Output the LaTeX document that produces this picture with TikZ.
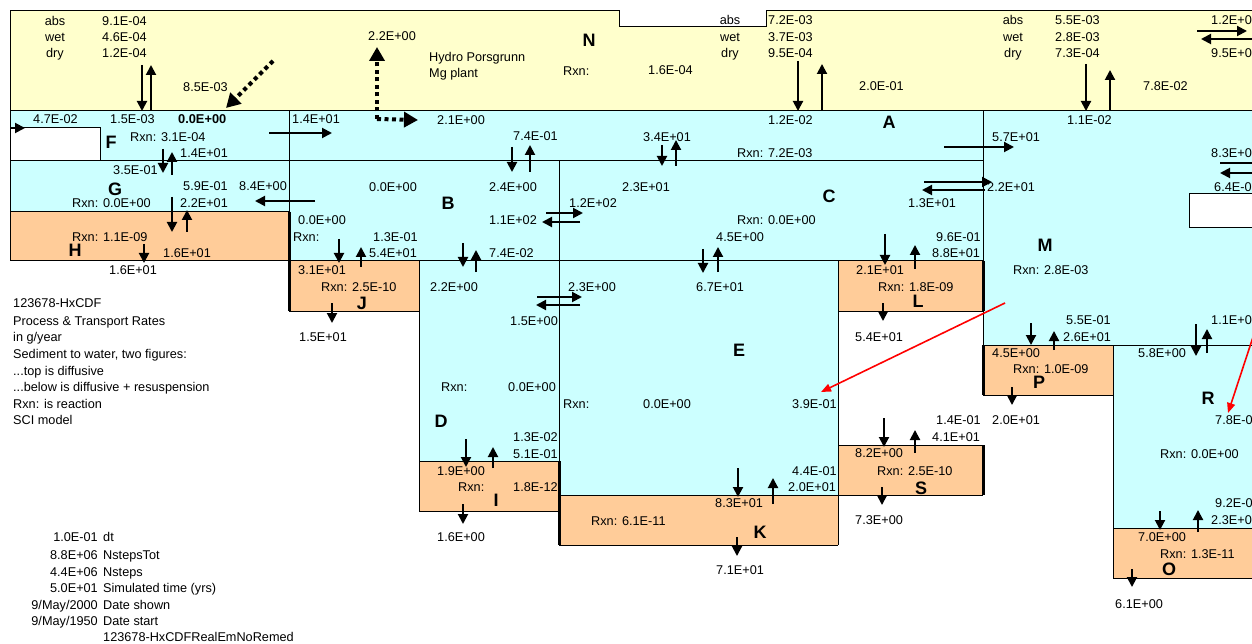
\documentclass[tikz,border=0pt]{standalone}
\usepackage{fontspec}
\setmainfont{Liberation Sans}
\usetikzlibrary{arrows.meta}
\definecolor{yel}{HTML}{FFFFCC}
\definecolor{cy}{HTML}{CCFFFF}
\definecolor{org}{HTML}{FFCC99}
\newcounter{nn}
\newcommand\fs{\fontsize{12.7}{14}\selectfont}
\newcommand\T[3]{\stepcounter{nn}\node[txt,anchor=base west] (t\arabic{nn}) at (#1,#2+4.5) {#3};}
\newcommand\TR[3]{\stepcounter{nn}\node[txt,anchor=base east] (t\arabic{nn}) at (#1,#2+4.5) {#3};}
\newcommand\TC[3]{\stepcounter{nn}\node[txt,anchor=base] (t\arabic{nn}) at (#1,#2+4.5) {#3};}
\newcommand\BL[3]{\node[big] (#3lbl) at (#1,#2+6.4) {#3};}
\newcommand\AR[4]{\draw[flx] (#1,#2) -- (#3,#4);}
\tikzset{
  txt/.style={inner sep=0pt,font=\fs},
  big/.style={inner sep=0pt,anchor=base,font=\fontsize{18}{20}\selectfont\bfseries},
  bd/.style={line width=1pt,draw=black},
  thk/.style={line width=3pt,draw=black},
  flx/.style={line width=2pt,-{Triangle[length=10pt,width=10pt]}},
  dotarr/.style={line width=4pt,dash pattern=on 4pt off 3.5pt,-{Triangle[length=14pt,width=15pt]}},
  redarr/.style={line width=1.6pt,red,-{Triangle[length=10pt,width=8pt]}}
}
\begin{document}
\begin{tikzpicture}[x=1pt,y=-1pt]
\useasboundingbox (0,0) rectangle (1252,644);
\clip (0,0) rectangle (1252,644);
\fill[white] (0,0) rectangle (1252,644);
% ---------- fills
\fill[yel] (10,11) -- (619,11) -- (619,27) -- (766,27) -- (766,11) -- (1260,11) -- (1260,111) -- (10,111) -- cycle;
\fill[cy] (10,111) rectangle (1260,161);
\fill[cy] (10,161) rectangle (289,212);
\fill[cy] (289,161) rectangle (983,261);
\fill[cy] (983,111) rectangle (1260,345);
\fill[cy] (419,261) rectangle (559,461);
\fill[cy] (559,261) rectangle (838,495);
\fill[cy] (1113,345) rectangle (1260,528);
\fill[org] (10,212) rectangle (289,261);
\fill[org] (289,261) rectangle (419,311);
\fill[org] (838,261) rectangle (983,311);
\fill[org] (419,461) rectangle (559,511);
\fill[org] (559,495) rectangle (838,545);
\fill[org] (838,445) rectangle (983,495);
\fill[org] (983,345) rectangle (1113,395);
\fill[org] (1113,528) rectangle (1260,578);
\filldraw[fill=white,bd] (10,128) rectangle (100,161);
\filldraw[fill=white,bd] (1189,194) rectangle (1262,228);
% ---------- borders
\draw[bd] (10,111) -- (10,11) -- (619,11) -- (619,27) -- (766,27) -- (766,11) -- (1260,11);
\draw[bd] (10,111) -- (1260,111);
\draw[bd] (10,111) -- (10,261);
\draw[bd] (10,161) -- (983,161);
\draw[bd] (10,212) -- (289,212);
\draw[bd] (10,261) -- (983,261);
\draw[bd] (289,111) -- (289,212);
\draw[thk] (289,212) -- (289,311);
\draw[bd] (289,311) -- (419,311);
\draw[bd] (419,261) -- (419,511);
\draw[bd] (419,461) -- (559,461);
\draw[bd] (419,511) -- (559,511);
\draw[bd] (559,161) -- (559,461);
\draw[thk] (559,461) -- (559,545);
\draw[bd] (559,495) -- (983,495);
\draw[bd] (559,545) -- (838,545);
\draw[bd] (838,261) -- (838,545);
\draw[bd] (838,311) -- (983,311);
\draw[bd] (838,445) -- (983,445);
\draw[bd] (983,111) -- (983,261);
\draw[thk] (983,261) -- (983,311);
\draw[bd] (983,311) -- (983,345);
\draw[thk] (983,345) -- (983,395);
\draw[thk] (983,445) -- (983,495);
\draw[bd] (983,345) -- (1260,345);
\draw[bd] (983,395) -- (1113,395);
\draw[bd] (1113,345) -- (1113,578);
\draw[bd] (1113,528) -- (1260,528);
\draw[bd] (1113,578) -- (1260,578);
% ---------- bold compartment letters
\BL{589}{40}{N}\BL{889}{122}{A}\BL{111}{142}{F}\BL{115}{189}{G}\BL{75}{250}{H}
\BL{448}{203}{B}\BL{829}{196}{C}\BL{362}{303}{J}\BL{918}{301}{L}\BL{1045}{245}{M}
\BL{739}{350}{E}\BL{441}{421}{D}\BL{496}{500}{I}\BL{760}{532}{K}\BL{921}{488}{S}
\BL{1039}{382}{P}\BL{1208}{398}{R}\BL{1169}{569}{O}
% ---------- N region texts
\TC{55}{21}{abs}\TC{55}{37}{wet}\TC{55}{53}{dry}
\T{102}{21}{9.1E-04}\T{102}{37}{4.6E-04}\T{102}{53}{1.2E-04}
\T{183}{87}{8.5E-03}
\T{368}{36}{2.2E+00}
\T{429}{57}{Hydro Porsgrunn}\T{429}{73}{Mg plant}
\T{563}{71}{Rxn:}\T{648}{70}{1.6E-04}
\TC{730}{20}{abs}\TC{730}{37}{wet}\TC{730}{53}{dry}
\T{768}{20}{7.2E-03}\T{768}{37}{3.7E-03}\T{768}{53}{9.5E-04}
\T{859}{86}{2.0E-01}
\TC{1013}{20}{abs}\TC{1013}{37}{wet}\TC{1013}{53}{dry}
\T{1055}{20}{5.5E-03}\T{1055}{37}{2.8E-03}\T{1055}{53}{7.3E-04}
\T{1143}{86}{7.8E-02}
\T{1211}{20}{1.2E+0}\T{1211}{53}{9.5E+0}
% ---------- water texts
\T{33}{119}{4.7E-02}\T{110}{119}{1.5E-03}
\node[inner sep=0pt,anchor=base west,font=\fontsize{12.8}{14}\selectfont\bfseries] (bold0) at (178,123.5) {0.0E+00};
\T{292}{119}{1.4E+01}\T{437}{120}{2.1E+00}\T{768}{120}{1.2E-02}\T{1067}{120}{1.1E-02}
\T{130}{137}{Rxn: 3.1E-04}\T{513}{136}{7.4E-01}\T{643}{137}{3.4E+01}\T{992}{137}{5.7E+01}
\T{180}{153}{1.4E+01}\T{737}{153}{Rxn: 7.2E-03}\T{1211}{153}{8.3E+0}
\T{113}{170}{3.5E-01}
\T{183}{186}{5.9E-01}\T{239}{186}{8.4E+00}\T{369}{187}{0.0E+00}\T{489}{187}{2.4E+00}
\T{622}{187}{2.3E+01}\T{987}{187}{2.2E+01}\T{1214}{187}{6.4E-0}
\T{72}{203}{Rxn: 0.0E+00}\T{180}{203}{2.2E+01}\T{569}{203}{1.2E+02}\T{908}{203}{1.3E+01}
\T{298}{220}{0.0E+00}\T{489}{220}{1.1E+02}\T{737}{220}{Rxn: 0.0E+00}
\T{72}{237}{Rxn: 1.1E-09}\T{293}{237}{Rxn:}\T{373}{237}{1.3E-01}\T{716}{237}{4.5E+00}\T{936}{237}{9.6E-01}
\T{163}{253}{1.6E+01}\T{369}{253}{5.4E+01}\T{489}{253}{7.4E-02}\T{932}{253}{8.8E+01}
\T{109}{270}{1.6E+01}\T{298}{270}{3.1E+01}\T{856}{270}{2.1E+01}\T{1013}{270}{Rxn: 2.8E-03}
\T{321}{287}{Rxn: 2.5E-10}\T{430}{287}{2.2E+00}\T{568}{287}{2.3E+00}\T{696}{287}{6.7E+01}\T{878}{287}{Rxn: 1.8E-09}
\T{510}{321}{1.5E+00}\T{1066}{320}{5.5E-01}\T{1211}{320}{1.1E+0}
\T{299}{337}{1.5E+01}\T{855}{337}{5.4E+01}\T{1063}{337}{2.6E+01}
\T{992}{353}{4.5E+00}\T{1138}{353}{5.8E+00}
\T{1013}{369}{Rxn: 1.0E-09}
\T{441}{387}{Rxn:}\T{508}{387}{0.0E+00}
\T{563}{404}{Rxn:}\T{643}{404}{0.0E+00}\T{792}{404}{3.9E-01}
\T{936}{420}{1.4E-01}\T{992}{420}{2.0E+01}\T{1215}{420}{7.8E-0}
\T{513}{437}{1.3E-02}\T{932}{437}{4.1E+01}
\T{513}{454}{5.1E-01}\T{855}{453}{8.2E+00}\T{1160}{454}{Rxn: 0.0E+00}
\T{437}{471}{1.9E+00}\T{792}{471}{4.4E-01}\T{877}{471}{Rxn: 2.5E-10}
\T{458}{487}{Rxn:}\T{513}{487}{1.8E-12}\T{788}{487}{2.0E+01}
\T{715}{503}{8.3E+01}\T{1215}{503}{9.2E-0}
\T{855}{520}{7.3E+00}\T{1211}{520}{2.3E+0}\T{591}{521}{Rxn: 6.1E-11}
\T{437}{537}{1.6E+00}\T{1138}{537}{7.0E+00}
\T{1160}{554}{Rxn: 1.3E-11}
\T{716}{570}{7.1E+01}
\T{1115}{604}{6.1E+00}
% ---------- legend
\T{13}{303}{123678-HxCDF}
\T{13}{321}{Process \& Transport Rates}
\T{13}{337}{in g/year}
\T{13}{354}{Sediment to water, two figures:}
\T{13}{371}{...top is diffusive}
\T{13}{387}{...below is diffusive + resuspension}
\T{13}{404}{Rxn: is reaction}
\T{13}{420}{SCI model}
\TR{98}{537}{1.0E-01}\T{103}{537}{dt}
\TR{98}{555}{8.8E+06}\T{103}{555}{NstepsTot}
\TR{98}{572}{4.4E+06}\T{103}{572}{Nsteps}
\TR{98}{588}{5.0E+01}\T{103}{588}{Simulated time (yrs)}
\TR{98}{605}{9/May/2000}\T{103}{605}{Date shown}
\TR{98}{621}{9/May/1950}\T{103}{621}{Date start}
\T{103}{637}{123678-HxCDFRealEmNoRemed}
% ---------- vertical flux arrows
\AR{142}{65}{142}{111}\AR{151}{111}{151}{65}
\AR{798}{61}{798}{111}\AR{822}{111}{822}{64}
\AR{1086}{64}{1086}{111}\AR{1110}{111}{1110}{70}
\AR{163}{149}{163}{173}\AR{172}{175}{172}{152}
\AR{512}{147}{512}{172}\AR{530}{172}{530}{145}
\AR{662}{145}{662}{166}\AR{676}{166}{676}{140}
\AR{172}{197}{172}{232}\AR{187}{232}{187}{210}
\AR{144}{244}{144}{263}
\AR{339}{239}{339}{263}\AR{361}{267}{361}{247}
\AR{463}{243}{463}{267}\AR{476}{272}{476}{250}
\AR{703}{249}{703}{273}\AR{718}{272}{718}{247}
\AR{885}{234}{885}{265}\AR{915}{269}{915}{245}
\AR{332}{303}{332}{323}
\AR{883}{303}{883}{321}
\AR{1031}{323}{1031}{345}\AR{1054}{350}{1054}{331}
\AR{1196}{324}{1196}{356}\AR{1207}{353}{1207}{329}
\AR{1012}{387}{1012}{405}
\AR{884}{418}{884}{447}\AR{915}{453}{915}{430}
\AR{466}{439}{466}{467}\AR{493}{468}{493}{447}
\AR{463}{504}{463}{524}
\AR{738}{468}{738}{497}\AR{773}{504}{773}{478}
\AR{882}{487}{882}{505}
\AR{737}{537}{737}{556}
\AR{1160}{511}{1160}{530}\AR{1198}{532}{1198}{510}
\AR{1132}{569}{1132}{587}
% ---------- horizontal flux arrows
\AR{11}{128}{25}{128}
\AR{269}{133}{332}{133}
\AR{315}{201}{255}{201}
\AR{546}{213}{583}{213}\AR{580}{222}{542}{222}
\AR{537}{297}{582}{297}\AR{580}{305}{536}{305}
\AR{944}{147}{1014}{147}
\AR{924}{182}{992}{182}\AR{985}{190}{922}{190}
\AR{1197}{31}{1247}{31}\AR{1260}{39}{1201}{39}
\AR{1220}{163}{1266}{163}\AR{1260}{173}{1220}{173}
% ---------- dotted emission arrows
\coordinate (em1) at (273,61);
\coordinate (em1t) at (226,108);
\draw[dotarr] (em1) -- (em1t);
\coordinate (em2) at (377,119);
\coordinate (em2u) at (377,47);
\coordinate (em2r) at (418,120);
\draw[dotarr] (em2) -- (em2u);
\draw[dotarr] (em2) -- (em2r);
% ---------- red arrows
\draw[redarr] (1005,303) -- (821,392);
\draw[redarr] (1254,334) -- (1228,413);
\end{tikzpicture}
\end{document}
